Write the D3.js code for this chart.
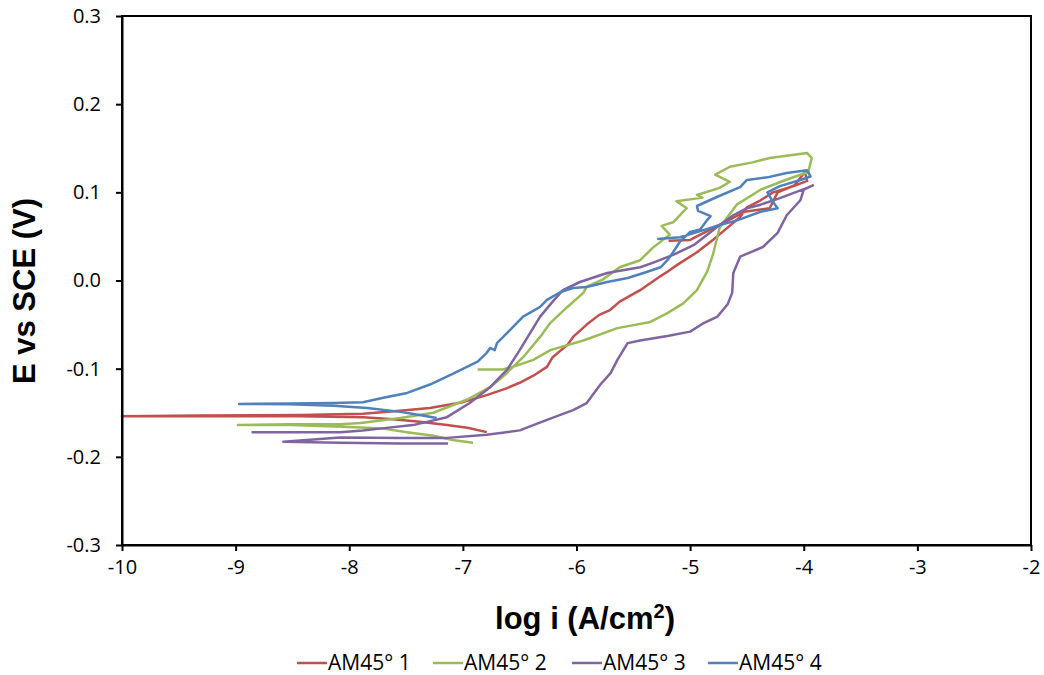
<!DOCTYPE html>
<html>
<head>
<meta charset="utf-8">
<script src="https://cdn.jsdelivr.net/npm/d3@7"></script>
<style>
  body { margin: 0; background: #fff; }
  svg { display: block; }
</style>
</head>
<body>
<div id="chart"></div>
<script>

// series names shown in the legend
const seriesNames = ["AM45° 1", "AM45° 2", "AM45° 3", "AM45° 4"];

// axis ticks
const xTicks = [-10, -9, -8, -7, -6, -5, -4, -3, -2];
const yTicks = [-0.3, -0.2, -0.1, 0.0, 0.1, 0.2, 0.3];

// [log i, E] pairs, in scan order
const am45_1 = [
    [-6.79, -0.172], [-6.96, -0.167], [-7.14, -0.164], [-7.40, -0.160], [-7.64, -0.157],
    [-7.88, -0.155], [-8.43, -0.154], [-9.31, -0.154], [-10, -0.154], [-9.31, -0.153],
    [-8.43, -0.1525], [-7.88, -0.151], [-7.58, -0.148], [-7.29, -0.1445], [-7.0, -0.138],
    [-6.79, -0.130], [-6.61, -0.122], [-6.50, -0.116], [-6.38, -0.108], [-6.26, -0.098],
    [-6.21, -0.087], [-6.08, -0.073], [-6.03, -0.064], [-5.91, -0.050], [-5.80, -0.039],
    [-5.71, -0.034], [-5.62, -0.024], [-5.44, -0.011], [-5.26, 0.005], [-5.20, 0.010],
    [-5.11, 0.018], [-4.94, 0.032], [-4.80, 0.046], [-4.67, 0.060], [-4.56, 0.072],
    [-4.50, 0.083], [-4.38, 0.091], [-4.27, 0.100], [-4.09, 0.107], [-3.97, 0.113],
    [-3.99, 0.123], [-4.08, 0.108], [-4.23, 0.100], [-4.30, 0.082], [-4.52, 0.078],
    [-4.74, 0.063], [-4.91, 0.052], [-5.0, 0.046], [-5.19, 0.045]
];

const am45_2 = [
    [-6.91, -0.184], [-7.09, -0.181], [-7.26, -0.176], [-7.49, -0.172], [-7.70, -0.168],
    [-8.05, -0.166], [-8.52, -0.164], [-8.98, -0.164], [-8.52, -0.163], [-8.08, -0.163],
    [-7.90, -0.1615], [-7.55, -0.156], [-7.26, -0.150], [-6.96, -0.135], [-6.76, -0.121],
    [-6.63, -0.107], [-6.47, -0.087], [-6.32, -0.064], [-6.23, -0.048], [-6.08, -0.030],
    [-5.94, -0.014], [-5.91, -0.007], [-5.77, 0.001], [-5.62, 0.015], [-5.44, 0.023],
    [-5.33, 0.037], [-5.18, 0.052], [-5.25, 0.062], [-5.15, 0.066], [-5.03, 0.082],
    [-5.12, 0.090], [-4.89, 0.094], [-4.94, 0.097], [-4.74, 0.105], [-4.65, 0.112],
    [-4.78, 0.120], [-4.65, 0.129], [-4.45, 0.134], [-4.30, 0.139], [-3.97, 0.1445],
    [-3.93, 0.139], [-3.96, 0.123], [-4.16, 0.114], [-4.38, 0.103], [-4.59, 0.086],
    [-4.74, 0.060], [-4.80, 0.029], [-4.85, 0.010], [-4.94, -0.011], [-5.06, -0.026],
    [-5.20, -0.037], [-5.35, -0.047], [-5.64, -0.054], [-5.94, -0.068], [-6.23, -0.079],
    [-6.38, -0.090], [-6.56, -0.098], [-6.65, -0.101], [-6.87, -0.101]
];

const am45_3 = [
    [-7.13, -0.185], [-7.55, -0.185], [-8.08, -0.184], [-8.58, -0.183], [-8.08, -0.178],
    [-7.55, -0.1785], [-7.14, -0.1785], [-6.79, -0.175], [-6.50, -0.170], [-6.26, -0.158],
    [-6.03, -0.147], [-5.91, -0.139], [-5.79, -0.118], [-5.70, -0.105], [-5.64, -0.090],
    [-5.55, -0.071], [-5.44, -0.068], [-5.20, -0.063], [-5.0, -0.058], [-4.89, -0.049],
    [-4.76, -0.041], [-4.67, -0.027], [-4.63, -0.014], [-4.62, 0.0085], [-4.56, 0.027],
    [-4.47, 0.032], [-4.36, 0.038], [-4.23, 0.054], [-4.15, 0.074], [-4.03, 0.091],
    [-4.0, 0.103], [-3.92, 0.108], [-3.97, 0.105], [-4.21, 0.0935], [-4.38, 0.086],
    [-4.50, 0.082], [-4.62, 0.074], [-4.74, 0.063], [-4.85, 0.052], [-4.97, 0.040],
    [-5.15, 0.029], [-5.33, 0.020], [-5.44, 0.015], [-5.73, 0.0085], [-5.97, -0.0017],
    [-6.12, -0.011], [-6.21, -0.024], [-6.32, -0.041], [-6.41, -0.060], [-6.50, -0.079],
    [-6.61, -0.101], [-6.76, -0.121], [-6.94, -0.139], [-7.14, -0.155], [-7.44, -0.164],
    [-7.73, -0.168], [-7.88, -0.170], [-8.08, -0.172], [-8.43, -0.172], [-8.86, -0.172]
];

const am45_4 = [
    [-7.23, -0.156], [-7.38, -0.1525], [-7.55, -0.149], [-7.84, -0.1445], [-8.14, -0.142],
    [-8.52, -0.1405], [-8.97, -0.140], [-8.52, -0.1395], [-8.14, -0.139], [-7.88, -0.138],
    [-7.70, -0.133], [-7.49, -0.1275], [-7.29, -0.118], [-7.09, -0.106], [-6.87, -0.092],
    [-6.79, -0.082], [-6.76, -0.0765], [-6.72, -0.079], [-6.70, -0.071], [-6.61, -0.0595],
    [-6.47, -0.041], [-6.32, -0.030], [-6.26, -0.022], [-6.14, -0.013], [-6.03, -0.0085],
    [-5.91, -0.0074], [-5.73, -0.0017], [-5.55, 0.0028], [-5.41, 0.0085], [-5.26, 0.015],
    [-5.20, 0.023], [-5.15, 0.032], [-5.09, 0.044], [-5.0, 0.055], [-4.91, 0.058],
    [-4.85, 0.0685], [-4.82, 0.073], [-4.93, 0.079], [-4.94, 0.0845], [-4.76, 0.095],
    [-4.56, 0.106], [-4.50, 0.114], [-4.32, 0.117], [-4.15, 0.122], [-3.97, 0.125],
    [-3.94, 0.118], [-4.03, 0.114], [-4.21, 0.107], [-4.32, 0.100], [-4.27, 0.089],
    [-4.23, 0.082], [-4.38, 0.078], [-4.58, 0.0685], [-4.74, 0.063], [-4.91, 0.056],
    [-5.09, 0.049], [-5.29, 0.047]
];

const seriesData = [am45_1, am45_2, am45_3, am45_4];
const seriesColors = ["#C0504D", "#9BBB59", "#8064A2", "#4F81BD"];

// drawing area
const width = 1044, height = 675;
const margin = {top: 16, right: 13, bottom: 130, left: 122};

const svg = d3.select("#chart").append("svg")
    .attr("width", width)
    .attr("height", height);

const x = d3.scaleLinear()
    .domain([-10, -2])
    .range([margin.left, width - margin.right]);

const y = d3.scaleLinear()
    .domain([-0.3, 0.3])
    .range([height - margin.bottom, margin.top]);

const tickFont = "'Open Sans', sans-serif";

// curves
const line = d3.line()
    .x(d => x(d[0]))
    .y(d => y(d[1]));

svg.append("g")
    .selectAll("path")
    .data(seriesData)
    .join("path")
    .attr("d", line)
    .attr("fill", "none")
    .attr("stroke", (d, i) => seriesColors[i])
    .attr("stroke-width", 2.5)
    .attr("stroke-linejoin", "round");

// frame
svg.append("rect")
    .attr("x", x(-10))
    .attr("y", y(0.3))
    .attr("width", x(-2) - x(-10))
    .attr("height", y(-0.3) - y(0.3))
    .attr("fill", "none")
    .attr("stroke", "#000")
    .attr("stroke-width", 2);

// axes
const xAxis = svg.append("g")
    .attr("transform", `translate(0, ${y(-0.3)})`)
    .call(d3.axisBottom(x).tickValues(xTicks).tickSize(6).tickSizeOuter(0).tickPadding(9)
        .tickFormat(d => String(d)));

const yAxis = svg.append("g")
    .attr("transform", `translate(${x(-10)}, 0)`)
    .call(d3.axisLeft(y).tickValues(yTicks).tickSize(6).tickSizeOuter(0).tickPadding(15)
        .tickFormat(d => d.toFixed(1)));

[xAxis, yAxis].forEach(g => {
    g.select(".domain").attr("stroke", "#000").attr("stroke-width", 2);
    g.selectAll(".tick line").attr("stroke", "#000").attr("stroke-width", 2);
    g.selectAll(".tick text")
        .attr("fill", "#000")
        .attr("font-family", tickFont)
        .attr("font-size", "20px");
});

// axis titles
svg.append("text")
    .attr("x", 585)
    .attr("y", 629)
    .attr("text-anchor", "middle")
    .attr("font-family", "'Liberation Sans', Arial, sans-serif")
    .attr("font-weight", "bold")
    .attr("font-size", "31px")
    .html('log i (A/cm<tspan font-size="20px" dy="-11">2</tspan><tspan dy="11">)</tspan>');

svg.append("text")
    .attr("transform", "translate(35, 291) rotate(-90)")
    .attr("text-anchor", "middle")
    .attr("font-family", "'Liberation Sans', Arial, sans-serif")
    .attr("font-weight", "bold")
    .attr("font-size", "31px")
    .text("E vs SCE (V)");

// legend
const legendX = [297, 433, 572, 708];
const legend = svg.append("g")
    .selectAll("g")
    .data(seriesNames)
    .join("g")
    .attr("transform", (d, i) => `translate(${legendX[i]}, 663)`);

legend.append("line")
    .attr("x1", 0).attr("x2", 30)
    .attr("stroke", (d, i) => seriesColors[i])
    .attr("stroke-width", 2.5);

legend.append("text")
    .attr("x", 31)
    .attr("dy", "0.35em")
    .attr("font-family", tickFont)
    .attr("font-size", "21px")
    .attr("fill", "#000")
    .text(d => d);

</script>
</body>
</html>
